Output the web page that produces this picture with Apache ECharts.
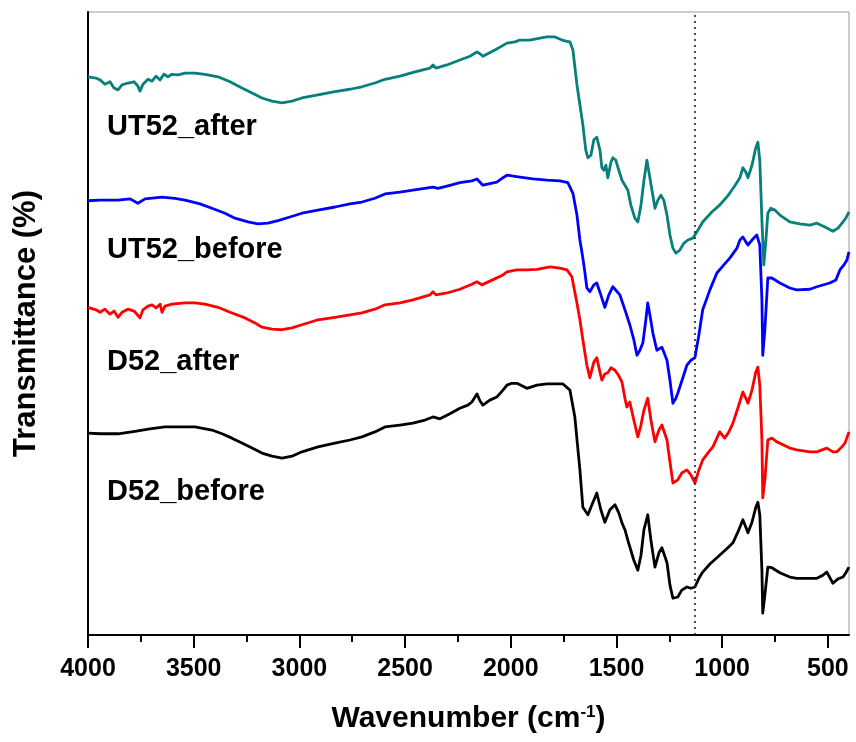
<!DOCTYPE html>
<html>
<head>
<meta charset="utf-8">
<script src="https://cdn.jsdelivr.net/npm/echarts@6/dist/echarts.min.js"></script>
<style>html,body{margin:0;padding:0;background:#fff}#c{width:856px;height:742px}</style>
</head>
<body>
<div id="c"></div>
<script>
// FTIR spectra: [wavenumber (cm-1), transmittance (arb. %, offset-stacked)]
const ut52After = [[4000,89.6],[3962,89.4],[3943,89.1],[3920,88.4],[3896,88.8],[3877,87.8],[3858,87.5],[3839,88.3],[3811,88.6],[3782,88.8],[3764,88.1],[3754,87.3],[3740,88.4],[3716,89.2],[3697,88.9],[3678,89.7],[3659,89.1],[3641,90.0],[3622,89.6],[3603,90.0],[3574,89.9],[3541,90.2],[3494,90.2],[3447,90.0],[3385,89.6],[3328,88.8],[3272,87.8],[3224,87.0],[3177,86.2],[3130,85.7],[3082,85.4],[3035,85.7],[2988,86.2],[2912,86.7],[2832,87.2],[2761,87.6],[2704,88.0],[2643,88.6],[2595,89.2],[2524,89.7],[2453,90.4],[2382,91.0],[2368,91.5],[2354,91.0],[2302,91.5],[2241,92.3],[2193,92.9],[2160,93.6],[2146,93.3],[2132,92.9],[2075,93.9],[2018,95.0],[1980,95.2],[1957,95.5],[1910,95.5],[1862,95.8],[1829,96.0],[1791,96.0],[1758,95.5],[1734,95.3],[1720,95.2],[1706,93.9],[1687,88.3],[1673,85.1],[1659,81.9],[1645,77.8],[1635,76.6],[1621,77.0],[1607,79.5],[1593,79.9],[1578,77.8],[1569,75.0],[1560,74.6],[1550,75.4],[1541,73.4],[1526,75.9],[1517,76.6],[1503,76.2],[1489,74.6],[1474,73.0],[1460,72.2],[1446,71.4],[1432,69.0],[1413,66.9],[1399,66.3],[1384,69.0],[1370,73.0],[1356,76.2],[1347,75.9],[1332,71.4],[1318,68.5],[1304,69.8],[1290,70.6],[1276,69.8],[1261,67.4],[1247,64.2],[1233,62.1],[1219,61.3],[1200,61.8],[1181,62.9],[1162,63.4],[1139,63.7],[1120,64.7],[1092,66.3],[1049,67.9],[1012,69.0],[973,70.5],[940,72.1],[916,73.4],[902,75.0],[888,74.3],[878,73.4],[859,75.4],[841,78.2],[831,79.1],[822,76.2],[812,66.6],[803,59.4],[793,63.4],[784,67.7],[770,68.5],[751,68.2],[727,67.4],[680,66.3],[633,66.0],[585,65.8],[552,66.1],[514,65.5],[476,64.8],[452,65.3],[428,66.3],[415,66.9],[400,67.9]];

const ut52Before = [[4000,69.7],[3943,69.8],[3858,69.8],[3801,70.0],[3764,69.3],[3730,70.0],[3650,70.3],[3589,70.1],[3541,69.8],[3470,69.2],[3414,68.5],[3352,67.7],[3305,66.9],[3243,66.3],[3196,66.0],[3149,66.1],[3101,66.5],[3045,67.1],[2988,67.7],[2912,68.2],[2832,68.7],[2761,69.2],[2704,69.5],[2643,70.1],[2595,70.8],[2524,71.1],[2463,71.4],[2368,71.9],[2345,71.7],[2297,72.1],[2241,72.6],[2184,72.9],[2160,73.2],[2132,72.2],[2066,72.7],[2037,73.4],[2018,73.8],[1957,73.5],[1895,73.2],[1829,73.0],[1768,72.9],[1730,72.6],[1706,70.9],[1687,67.4],[1673,63.4],[1659,60.5],[1649,58.1],[1640,55.7],[1626,55.1],[1607,56.2],[1593,56.5],[1574,54.6],[1555,52.6],[1536,54.6],[1517,55.9],[1484,54.6],[1460,52.2],[1437,49.8],[1418,47.4],[1403,44.9],[1389,45.7],[1375,46.9],[1361,50.6],[1352,53.3],[1342,51.4],[1328,48.5],[1309,45.7],[1285,46.2],[1261,44.1],[1247,40.9],[1233,37.2],[1219,38.0],[1210,38.8],[1186,41.3],[1167,43.3],[1148,44.1],[1129,44.5],[1110,48.2],[1092,52.2],[1058,55.4],[1025,58.1],[992,59.4],[964,60.5],[930,62.1],[916,63.4],[902,63.9],[888,63.1],[878,62.6],[859,63.4],[836,64.2],[822,62.6],[812,53.8],[808,44.9],[798,49.0],[784,57.3],[765,57.3],[727,56.5],[680,55.7],[647,55.4],[585,55.5],[552,55.9],[491,56.5],[462,57.0],[443,58.6],[424,59.4],[410,60.2],[400,61.5]];

const d52After = [[4000,52.6],[3962,52.2],[3943,51.8],[3920,52.3],[3896,51.5],[3877,52.0],[3858,51.0],[3839,51.8],[3811,52.3],[3782,52.0],[3754,50.9],[3740,52.2],[3716,52.8],[3697,53.0],[3678,52.5],[3659,53.1],[3650,51.8],[3636,52.8],[3603,53.1],[3541,53.3],[3494,53.3],[3447,53.1],[3385,52.6],[3328,51.8],[3257,50.9],[3210,50.1],[3177,49.4],[3130,49.1],[3082,49.0],[3035,49.3],[2988,49.8],[2912,50.6],[2832,51.0],[2761,51.4],[2704,51.7],[2643,52.3],[2595,53.0],[2524,53.3],[2463,53.8],[2382,54.6],[2368,55.1],[2354,54.6],[2302,54.9],[2241,55.5],[2184,56.3],[2160,56.7],[2137,56.2],[2099,56.8],[2037,57.8],[2018,58.3],[1971,58.6],[1924,58.6],[1876,58.7],[1815,59.1],[1768,58.9],[1734,58.6],[1711,57.5],[1687,53.3],[1673,50.6],[1659,47.4],[1640,43.3],[1626,41.3],[1607,43.8],[1593,44.5],[1578,42.2],[1569,40.9],[1555,41.9],[1541,42.1],[1526,42.9],[1507,42.5],[1489,41.6],[1474,40.6],[1460,38.0],[1451,36.6],[1437,37.4],[1418,34.5],[1399,31.8],[1384,33.7],[1370,36.1],[1352,38.0],[1337,34.5],[1318,31.0],[1299,32.9],[1285,33.7],[1261,31.3],[1247,27.8],[1233,24.4],[1210,24.9],[1191,26.0],[1167,26.5],[1148,25.7],[1129,24.4],[1110,26.5],[1092,28.1],[1068,29.2],[1044,30.2],[1025,31.6],[1012,32.6],[988,31.6],[968,32.6],[949,34.0],[926,36.4],[902,39.0],[888,38.0],[878,37.2],[859,39.3],[841,42.2],[831,43.0],[822,40.1],[812,31.3],[808,22.0],[798,24.9],[784,31.3],[765,31.6],[741,31.0],[680,30.0],[647,29.7],[585,29.4],[552,29.4],[505,30.0],[476,29.4],[457,29.4],[434,30.2],[419,30.8],[400,32.6]];

const d52Before = [[4000,32.4],[3943,32.3],[3858,32.3],[3778,32.7],[3707,33.1],[3636,33.4],[3565,33.4],[3494,33.4],[3414,32.9],[3366,32.3],[3319,31.6],[3272,30.8],[3224,30.0],[3177,29.2],[3130,28.7],[3082,28.4],[3035,28.7],[2988,29.4],[2912,30.2],[2832,30.8],[2761,31.3],[2704,31.8],[2643,32.6],[2595,33.4],[2524,33.7],[2463,34.0],[2406,34.5],[2368,35.0],[2335,34.7],[2288,35.5],[2241,36.4],[2203,36.9],[2184,37.4],[2160,38.7],[2146,37.6],[2132,36.9],[2099,37.7],[2066,38.2],[2037,39.3],[2018,40.1],[1995,40.4],[1971,40.4],[1947,40.0],[1924,39.6],[1876,40.1],[1829,40.3],[1753,40.3],[1720,39.3],[1697,35.0],[1673,26.5],[1659,20.5],[1635,19.3],[1616,20.9],[1593,22.8],[1574,20.1],[1555,18.1],[1531,20.1],[1507,20.9],[1489,19.6],[1474,18.0],[1460,16.9],[1446,15.2],[1418,12.0],[1399,10.4],[1384,12.8],[1370,16.9],[1352,19.3],[1337,15.2],[1318,10.9],[1299,13.2],[1285,14.0],[1261,11.6],[1247,8.0],[1233,5.9],[1210,6.1],[1191,7.2],[1167,7.7],[1148,7.5],[1129,7.7],[1110,9.1],[1092,10.1],[1058,11.4],[1012,12.8],[973,14.0],[949,14.8],[926,16.5],[902,18.5],[888,17.3],[878,16.4],[859,18.1],[841,20.5],[831,21.3],[822,19.3],[812,10.4],[808,3.5],[798,6.4],[784,10.9],[765,10.8],[727,10.0],[680,9.3],[647,9.1],[585,9.1],[552,9.1],[528,9.5],[505,10.1],[476,8.3],[452,9.0],[428,9.3],[415,10.0],[400,10.9]];

const seriesNames = ['UT52_after', 'UT52_before', 'D52_after', 'D52_before'];
const seriesColors = ['#077f7a', '#0000ff', '#ff0000', '#000000'];
const majorTicks = [500, 1000, 1500, 2000, 2500, 3000, 3500, 4000];
const minorTicks = [750, 1250, 1750, 2250, 2750, 3250, 3750];
const markerWavenumber = 1130;
const xRange = [400, 4000];
const yRange = [0, 100];

const FONT = "'Liberation Sans', Arial, sans-serif";
const chart = echarts.init(document.getElementById('c'), null, {renderer: 'canvas'});
const datasets = [ut52After, ut52Before, d52After, d52Before];

const labelPos = [[107, 127], [107, 250], [107, 362], [107, 492]];

chart.setOption({
  animation: false,
  backgroundColor: '#fff',
  grid: {left: 88, right: 7, top: 12, bottom: 107, show: true, borderColor: '#999', borderWidth: 1},
  xAxis: [{
    type: 'value', min: xRange[0], max: xRange[1], inverse: true,
    name: 'Wavenumber (cm{sup|-1})', nameLocation: 'middle', nameGap: 69,
    nameTextStyle: {fontFamily: FONT, fontWeight: 'bold', fontSize: 30, color: '#000',
      rich: {sup: {fontFamily: FONT, fontWeight: 'bold', fontSize: 17, verticalAlign: 'top', color: '#000'}}},
    axisLine: {show: true, lineStyle: {color: '#000', width: 2}},
    axisTick: {show: true, inside: false, length: 13, lineStyle: {color: '#000', width: 2}, customValues: majorTicks},
    axisLabel: {show: true, margin: 22, fontFamily: FONT, fontWeight: 'bold', fontSize: 25, color: '#000',
      customValues: majorTicks, formatter: v => String(v)},
    splitLine: {show: false}
  }, {
    type: 'value', min: xRange[0], max: xRange[1], inverse: true, position: 'bottom',
    axisLine: {show: false},
    axisTick: {show: true, inside: false, length: 7, lineStyle: {color: '#000', width: 2}, customValues: minorTicks},
    axisLabel: {show: false},
    splitLine: {show: false}
  }],
  yAxis: {
    type: 'value', min: yRange[0], max: yRange[1],
    name: 'Transmittance (%)', nameLocation: 'middle', nameGap: 46,
    nameTextStyle: {fontFamily: FONT, fontWeight: 'bold', fontSize: 31, color: '#000'},
    axisLine: {show: true, lineStyle: {color: '#000', width: 2}},
    axisTick: {show: false}, axisLabel: {show: false}, splitLine: {show: false}
  },
  graphic: seriesNames.map((n, i) => ({
    type: 'text', x: labelPos[i][0], y: labelPos[i][1], silent: true,
    style: {text: n, fill: '#000', font: 'bold 29px ' + FONT, textVerticalAlign: 'middle', verticalAlign: 'middle'}
  })),
  series: datasets.map((d, i) => ({
    name: seriesNames[i], type: 'line', data: d, showSymbol: false, symbol: 'none',
    lineStyle: {color: seriesColors[i], width: 2.8, join: 'round'}, z: 3,
    markLine: i === 3 ? {
      silent: true, symbol: 'none', label: {show: false},
      lineStyle: {color: '#222', width: 1.6, type: [2, 4]},
      data: [{xAxis: markerWavenumber}]
    } : undefined
  }))
});
</script>
</body>
</html>
